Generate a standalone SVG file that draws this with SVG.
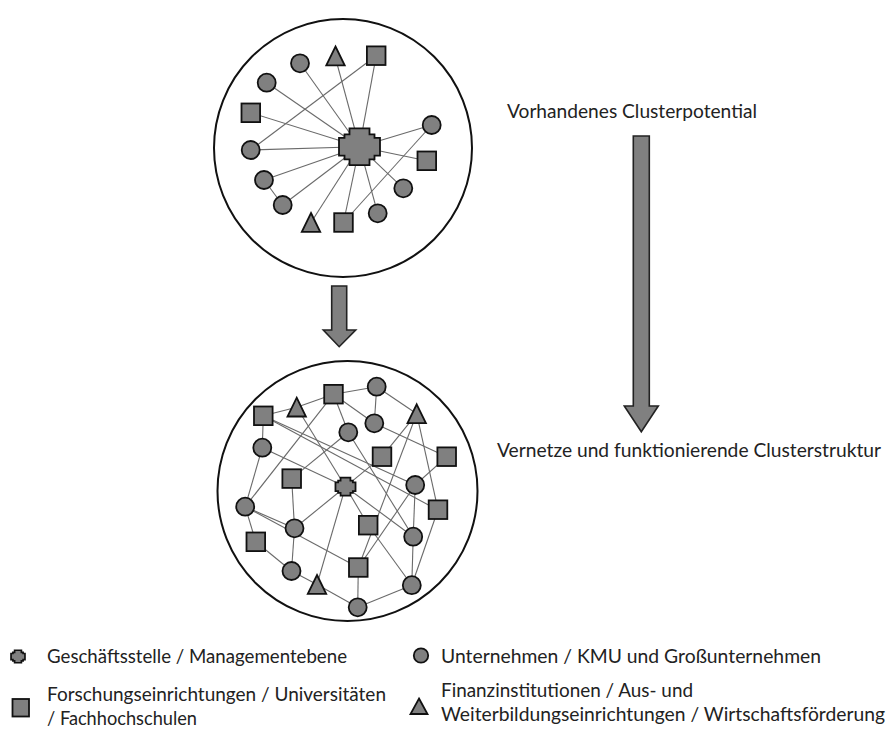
<svg xmlns="http://www.w3.org/2000/svg" width="887" height="731" viewBox="0 0 887 731">
  <style>
    .bg { fill: #ffffff; }
    .ring { fill: none; stroke: #111; stroke-width: 2; }
    .node { fill: #808080; stroke: #111; stroke-width: 1.8; }
    .edge { stroke: #6a6a6a; stroke-width: 1.1; fill: none; }
    .flow { fill: #808080; stroke: #222; stroke-width: 1.6; stroke-linejoin: miter; }
    .label { font-family: Lato, "Liberation Sans", Arial, sans-serif; font-size: 18.5px; fill: #222; }
  </style>
  <defs>
    <!-- stepped plus sign, centred on 0,0, 41 x 37 -->
    <path id="plus" d="M-10,-18.4 H10 V-12.4 H15 V-8.8 H20.5 V9 H15 V12.6 H10 V18.4 H-10 V12.6 H-15 V9 H-20.5 V-8.8 H-15 V-12.4 H-10 Z"/>
    <path id="tri" d="M0,-9.5 L9.2,9.3 L-9.2,9.3 Z"/>
    <rect id="sq" x="-9.3" y="-9.3" width="18.6" height="18.6"/>
  </defs>

  <rect class="bg" x="0" y="0" width="887" height="731"/>

  <!-- upper ring: existing potential, star around the office -->
  <circle class="ring" cx="343" cy="148" r="129"/>
  <g id="top-connectors">
    <line class="edge" x1="300" y1="63.3" x2="359.5" y2="146.7"/>
    <line class="edge" x1="335.5" y1="58" x2="359.5" y2="146.7"/>
    <line class="edge" x1="376.2" y1="55.7" x2="359.5" y2="146.7"/>
    <line class="edge" x1="266.7" y1="82.7" x2="359.5" y2="146.7"/>
    <line class="edge" x1="250.8" y1="112.8" x2="359.5" y2="146.7"/>
    <line class="edge" x1="250.7" y1="150" x2="359.5" y2="146.7"/>
    <line class="edge" x1="250.7" y1="150" x2="376.2" y2="55.7"/>
    <line class="edge" x1="264" y1="180" x2="359.5" y2="146.7"/>
    <line class="edge" x1="264" y1="180" x2="282.7" y2="205"/>
    <line class="edge" x1="282.7" y1="205" x2="359.5" y2="146.7"/>
    <line class="edge" x1="311" y1="222.5" x2="359.5" y2="146.7"/>
    <line class="edge" x1="343.5" y1="222.5" x2="359.5" y2="146.7"/>
    <line class="edge" x1="343.5" y1="222.5" x2="431.7" y2="125"/>
    <line class="edge" x1="377.7" y1="213.3" x2="359.5" y2="146.7"/>
    <line class="edge" x1="403.3" y1="188.3" x2="359.5" y2="146.7"/>
    <line class="edge" x1="426.8" y1="160.8" x2="359.5" y2="146.7"/>
    <line class="edge" x1="431.7" y1="125" x2="359.5" y2="146.7"/>
  </g>
  <g id="t-office"><use href="#plus" class="node" transform="translate(359.5,146.7)"/></g>
  <g id="t-c1"><circle class="node" cx="300" cy="63.3" r="9"/></g>
  <g id="t-t1"><use href="#tri" class="node" transform="translate(335.5,56)"/></g>
  <g id="t-s1"><use href="#sq" class="node" transform="translate(376.2,55.7)"/></g>
  <g id="t-c2"><circle class="node" cx="266.7" cy="82.7" r="9"/></g>
  <g id="t-s2"><use href="#sq" class="node" transform="translate(250.8,112.8)"/></g>
  <g id="t-c3"><circle class="node" cx="250.7" cy="150" r="9"/></g>
  <g id="t-c4"><circle class="node" cx="264" cy="180" r="9"/></g>
  <g id="t-c5"><circle class="node" cx="282.7" cy="205" r="9"/></g>
  <g id="t-t2"><use href="#tri" class="node" transform="translate(311,222.5)"/></g>
  <g id="t-s3"><use href="#sq" class="node" transform="translate(343.5,222.5)"/></g>
  <g id="t-c6"><circle class="node" cx="377.7" cy="213.3" r="9"/></g>
  <g id="t-c7"><circle class="node" cx="403.3" cy="188.3" r="9"/></g>
  <g id="t-s4"><use href="#sq" class="node" transform="translate(426.8,160.8)"/></g>
  <g id="t-c8"><circle class="node" cx="431.7" cy="125" r="9"/></g>

  <!-- transition arrows -->
  <g id="arrow-small"><path class="flow" d="M331.7,286 H346.7 V330 H355.7 L339.2,346.7 L323.3,330 H331.7 Z"/></g>
  <g id="arrow-long"><path class="flow" d="M633.3,136 H649.3 V406 H658.3 L641.3,431.7 L624.3,406 H633.3 Z"/></g>

  <text class="label" x="507" y="118" textLength="250" lengthAdjust="spacingAndGlyphs">Vorhandenes Clusterpotential</text>
  <text class="label" x="497" y="457" textLength="384" lengthAdjust="spacingAndGlyphs">Vernetze und funktionierende Clusterstruktur</text>

  <!-- lower ring: networked cluster -->
  <circle class="ring" cx="347.5" cy="491" r="130"/>
  <g id="bottom-connectors">
    <line class="edge" x1="263.3" y1="415.8" x2="296.7" y2="407.2"/>
    <line class="edge" x1="296.7" y1="407.2" x2="333.5" y2="394.2"/>
    <line class="edge" x1="333.5" y1="394.2" x2="376.7" y2="386.7"/>
    <line class="edge" x1="376.7" y1="386.7" x2="374.3" y2="423.3"/>
    <line class="edge" x1="376.7" y1="386.7" x2="416.7" y2="413.8"/>
    <line class="edge" x1="333.5" y1="394.2" x2="374.3" y2="423.3"/>
    <line class="edge" x1="333.5" y1="394.2" x2="348.3" y2="432.3"/>
    <line class="edge" x1="333.5" y1="394.2" x2="245.2" y2="506.7"/>
    <line class="edge" x1="263.3" y1="415.8" x2="262.3" y2="447.7"/>
    <line class="edge" x1="263.3" y1="415.8" x2="415.2" y2="485"/>
    <line class="edge" x1="263.3" y1="415.8" x2="447" y2="515"/>
    <line class="edge" x1="296.7" y1="407.2" x2="345.5" y2="486.7"/>
    <line class="edge" x1="262.3" y1="447.7" x2="345.5" y2="486.7"/>
    <line class="edge" x1="262.3" y1="447.7" x2="245.2" y2="506.7"/>
    <line class="edge" x1="348.3" y1="432.3" x2="291.7" y2="478.6"/>
    <line class="edge" x1="348.3" y1="432.3" x2="413.2" y2="536.7"/>
    <line class="edge" x1="345.5" y1="486.7" x2="382" y2="456.7"/>
    <line class="edge" x1="345.5" y1="486.7" x2="294.5" y2="528.3"/>
    <line class="edge" x1="345.5" y1="486.7" x2="317" y2="584.5"/>
    <line class="edge" x1="345.5" y1="486.7" x2="368.2" y2="525.2"/>
    <line class="edge" x1="345.5" y1="486.7" x2="413.2" y2="536.7"/>
    <line class="edge" x1="374.3" y1="423.3" x2="446.7" y2="456.7"/>
    <line class="edge" x1="416.7" y1="413.8" x2="382" y2="456.7"/>
    <line class="edge" x1="416.7" y1="413.8" x2="438" y2="509.7"/>
    <line class="edge" x1="416.7" y1="413.8" x2="358.3" y2="567.5"/>
    <line class="edge" x1="446.7" y1="456.7" x2="415.2" y2="485"/>
    <line class="edge" x1="415.2" y1="485" x2="413.2" y2="536.7"/>
    <line class="edge" x1="358.3" y1="567.5" x2="415.2" y2="485"/>
    <line class="edge" x1="413.2" y1="536.7" x2="411.8" y2="585.2"/>
    <line class="edge" x1="438" y1="509.7" x2="411.8" y2="585.2"/>
    <line class="edge" x1="368.2" y1="525.2" x2="411.8" y2="585.2"/>
    <line class="edge" x1="411.8" y1="585.2" x2="357.7" y2="607.3"/>
    <line class="edge" x1="358.3" y1="567.5" x2="357.7" y2="607.3"/>
    <line class="edge" x1="317" y1="584.5" x2="357.7" y2="607.3"/>
    <line class="edge" x1="245.2" y1="506.7" x2="294.5" y2="528.3"/>
    <line class="edge" x1="245.2" y1="506.7" x2="358.3" y2="567.5"/>
    <line class="edge" x1="245.2" y1="506.7" x2="255.8" y2="541.8"/>
    <line class="edge" x1="255.8" y1="541.8" x2="291.5" y2="571"/>
    <line class="edge" x1="294.5" y1="528.3" x2="291.5" y2="571"/>
    <line class="edge" x1="291.5" y1="571" x2="317" y2="584.5"/>
    <line class="edge" x1="291.7" y1="478.6" x2="294.5" y2="528.3"/>
  </g>
  <g id="b-s1"><use href="#sq" class="node" transform="translate(263.3,415.8)"/></g>
  <g id="b-t1"><use href="#tri" class="node" transform="translate(296.7,407.2)"/></g>
  <g id="b-s2"><use href="#sq" class="node" transform="translate(333.5,394.2)"/></g>
  <g id="b-c1"><circle class="node" cx="376.7" cy="386.7" r="9"/></g>
  <g id="b-c2"><circle class="node" cx="374.3" cy="423.3" r="9"/></g>
  <g id="b-t2"><use href="#tri" class="node" transform="translate(416.7,413.8)"/></g>
  <g id="b-c3"><circle class="node" cx="348.3" cy="432.3" r="9"/></g>
  <g id="b-c4"><circle class="node" cx="262.3" cy="447.7" r="9"/></g>
  <g id="b-s3"><use href="#sq" class="node" transform="translate(382,456.7)"/></g>
  <g id="b-s4"><use href="#sq" class="node" transform="translate(446.7,456.7)"/></g>
  <g id="b-s5"><use href="#sq" class="node" transform="translate(291.7,478.6)"/></g>
  <g id="b-office"><use href="#plus" class="node" transform="translate(345.5,486.7) scale(0.49)" style="stroke-width:3.6"/></g>
  <g id="b-c5"><circle class="node" cx="415.2" cy="485" r="9"/></g>
  <g id="b-c6"><circle class="node" cx="245.2" cy="506.7" r="9"/></g>
  <g id="b-s6"><use href="#sq" class="node" transform="translate(438,509.7)"/></g>
  <g id="b-s7"><use href="#sq" class="node" transform="translate(368.2,525.2)"/></g>
  <g id="b-c7"><circle class="node" cx="294.5" cy="528.3" r="9"/></g>
  <g id="b-c8"><circle class="node" cx="413.2" cy="536.7" r="9"/></g>
  <g id="b-s8"><use href="#sq" class="node" transform="translate(255.8,541.8)"/></g>
  <g id="b-s9"><use href="#sq" class="node" transform="translate(358.3,567.5)"/></g>
  <g id="b-c9"><circle class="node" cx="291.5" cy="571" r="9"/></g>
  <g id="b-t3"><use href="#tri" class="node" transform="translate(317,584.5)"/></g>
  <g id="b-c10"><circle class="node" cx="411.8" cy="585.2" r="9"/></g>
  <g id="b-c11"><circle class="node" cx="357.7" cy="607.3" r="9"/></g>

  <!-- legend -->
  <g id="legend">
    <use href="#plus" class="node" transform="translate(18,656.5) scale(0.34)" style="stroke-width:5"/>
    <text class="label" x="47" y="663" textLength="300" lengthAdjust="spacingAndGlyphs">Geschäftsstelle / Managementebene</text>
    <circle class="node" cx="421" cy="655.5" r="7.2"/>
    <text class="label" x="441" y="663" textLength="380" lengthAdjust="spacingAndGlyphs">Unternehmen / KMU und Großunternehmen</text>
    <rect class="node" x="12.5" y="699" width="16.5" height="17.5"/>
    <text class="label" x="47" y="701" textLength="339" lengthAdjust="spacingAndGlyphs">Forschungseinrichtungen / Universitäten</text>
    <text class="label" x="47" y="725" textLength="150" lengthAdjust="spacingAndGlyphs">/ Fachhochschulen</text>
    <path class="node" d="M419,698.5 L427.5,714 L410.5,714 Z"/>
    <text class="label" x="441" y="697" textLength="252" lengthAdjust="spacingAndGlyphs">Finanzinstitutionen / Aus- und</text>
    <text class="label" x="441" y="721" textLength="444" lengthAdjust="spacingAndGlyphs">Weiterbildungseinrichtungen / Wirtschaftsförderung</text>
  </g>
</svg>
